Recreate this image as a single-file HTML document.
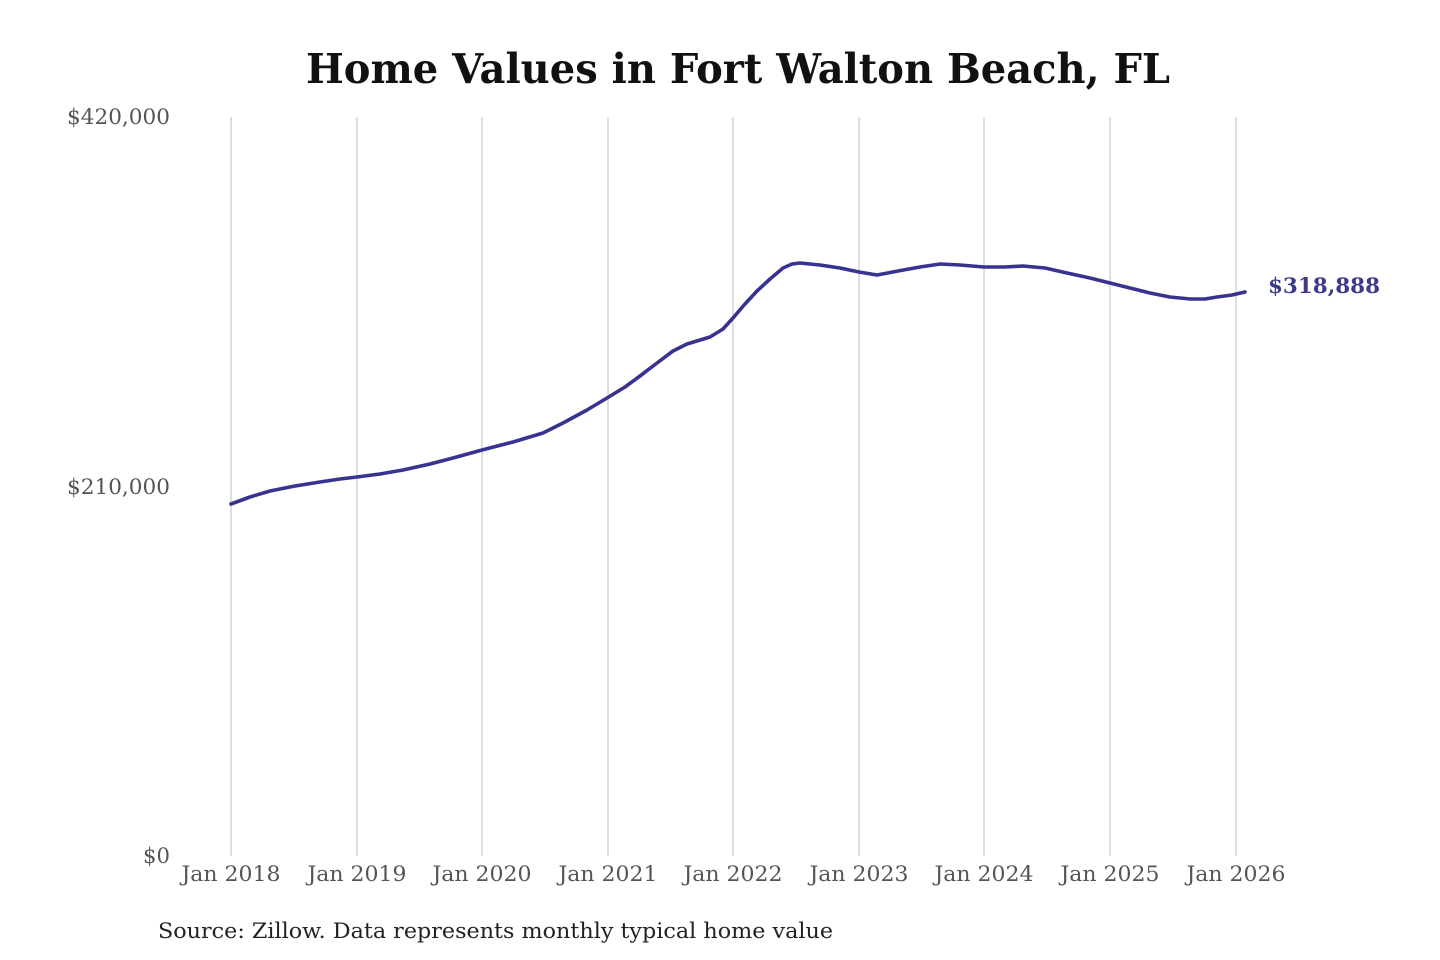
<!DOCTYPE html>
<html>
<head>
<meta charset="utf-8">
<style>
html,body{margin:0;padding:0;background:#fff;}
svg{display:block;}
</style>
</head>
<body>
<svg width="1440" height="960" viewBox="0 0 1440 960" xmlns="http://www.w3.org/2000/svg">
<rect width="1440" height="960" fill="#fff"/>
<text x="738" y="83" text-anchor="middle" font-family="DejaVu Serif, Liberation Serif, serif" font-weight="bold" font-size="41" fill="#111" textLength="864" lengthAdjust="spacingAndGlyphs">Home Values in Fort Walton Beach, FL</text>
<g stroke="#c8c8c8" stroke-width="1.2">
<line x1="231" y1="117" x2="231" y2="856"/>
<line x1="357" y1="117" x2="357" y2="856"/>
<line x1="482" y1="117" x2="482" y2="856"/>
<line x1="608" y1="117" x2="608" y2="856"/>
<line x1="733" y1="117" x2="733" y2="856"/>
<line x1="859" y1="117" x2="859" y2="856"/>
<line x1="984" y1="117" x2="984" y2="856"/>
<line x1="1110" y1="117" x2="1110" y2="856"/>
<line x1="1236" y1="117" x2="1236" y2="856"/>
</g>
<g font-family="DejaVu Serif, Liberation Serif, serif" font-size="21.5" fill="#555">
<text x="170" y="124" text-anchor="end" textLength="103" lengthAdjust="spacingAndGlyphs">$420,000</text>
<text x="170" y="494" text-anchor="end" textLength="103" lengthAdjust="spacingAndGlyphs">$210,000</text>
<text x="170" y="863" text-anchor="end" textLength="27" lengthAdjust="spacingAndGlyphs">$0</text>
</g>
<g font-family="DejaVu Serif, Liberation Serif, serif" font-size="21.5" fill="#555" text-anchor="middle">
<text x="231" y="881" textLength="99" lengthAdjust="spacingAndGlyphs">Jan 2018</text>
<text x="357" y="881" textLength="99" lengthAdjust="spacingAndGlyphs">Jan 2019</text>
<text x="482" y="881" textLength="99" lengthAdjust="spacingAndGlyphs">Jan 2020</text>
<text x="608" y="881" textLength="99" lengthAdjust="spacingAndGlyphs">Jan 2021</text>
<text x="733" y="881" textLength="99" lengthAdjust="spacingAndGlyphs">Jan 2022</text>
<text x="859" y="881" textLength="99" lengthAdjust="spacingAndGlyphs">Jan 2023</text>
<text x="984" y="881" textLength="99" lengthAdjust="spacingAndGlyphs">Jan 2024</text>
<text x="1110" y="881" textLength="99" lengthAdjust="spacingAndGlyphs">Jan 2025</text>
<text x="1236" y="881" textLength="99" lengthAdjust="spacingAndGlyphs">Jan 2026</text>
</g>
<polyline fill="none" stroke="#38338f" stroke-width="3.6" stroke-linejoin="round" stroke-linecap="round"
points="231,504 250,497 270,491 295,486 320,482 340,479 357,477 380,474 403,470 430,464 453,458 482,450 513,442 543,433 563,423 587,410 607,398 625,387 640,376 657,363 673,351 687,344 710,337 723,329 733,318 745,304 757,291 770,279 783,268 792,264 800,263 820,265 840,268 859,272 877,275 898,271 920,267 940,264 960,265 984,267 1005,267 1023,266 1045,268 1067,273 1090,278 1110,283 1130,288 1150,293 1170,297 1190,299 1205,299 1217,297 1232,295 1245,292"/>
<text x="1268" y="293" font-family="DejaVu Serif, Liberation Serif, serif" font-weight="bold" font-size="21" fill="#3d3a8c" textLength="112" lengthAdjust="spacingAndGlyphs">$318,888</text>
<text x="158" y="938" font-family="DejaVu Serif, Liberation Serif, serif" font-size="21.5" fill="#222" textLength="675" lengthAdjust="spacingAndGlyphs">Source: Zillow. Data represents monthly typical home value</text>
</svg>
</body>
</html>
